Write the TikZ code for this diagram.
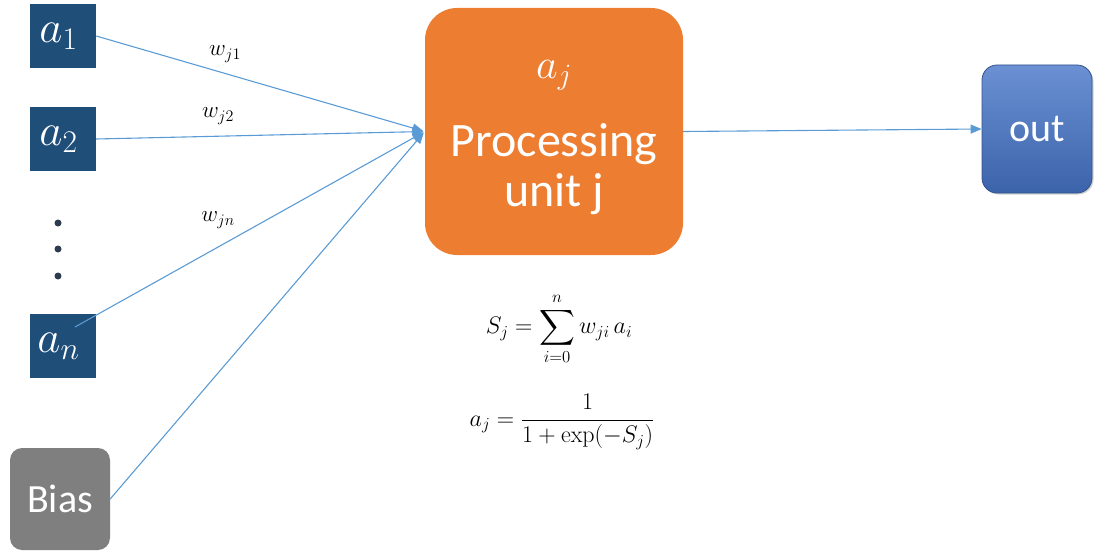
\RequirePackage{fix-cm}
\documentclass[tikz,border=0pt]{standalone}
\usepackage{amsmath}
\usepackage[no-math]{fontspec}
\setmainfont{Carlito}
\usetikzlibrary{arrows.meta,calc,shadows}

\definecolor{navy}{HTML}{1F4E79}
\definecolor{procorange}{HTML}{ED7D31}
\definecolor{biasgray}{HTML}{7F7F7F}
\definecolor{linkblue}{HTML}{5B9BD5}
\definecolor{outblue}{HTML}{4675C8}
\definecolor{dotcol}{HTML}{2E3B4E}

\newcommand{\unitlabel}[1]{$#1$\hspace*{9pt}}

\begin{document}
\begin{tikzpicture}[x=1pt,y=-1pt,
  inbox/.style={fill=navy, text=white, minimum width=66pt, minimum height=64pt,
    inner sep=0pt, font=\fontsize{45}{45}\selectfont},
  biasbox/.style={fill=biasgray, text=white, rounded corners=12pt,
    minimum width=100pt, minimum height=102pt, inner sep=0pt,
    font=\fontsize{40}{40}\selectfont},
  procbox/.style={fill=procorange, rounded corners=32pt,
    minimum width=258pt, minimum height=247pt, inner sep=0pt},
  proctext/.style={text=white, align=center, inner sep=0pt},
  outbox/.style={top color=outblue!80!white, middle color=outblue,
    bottom color=outblue!85!black, draw=outblue!70!black, line width=0.8pt,
    rounded corners=15pt, minimum width=110pt, minimum height=128pt,
    inner sep=0pt, text=white, font=\fontsize{40}{40}\selectfont,
    drop shadow={opacity=0.3, fill=black!60, shadow xshift=1.5pt, shadow yshift=-1.5pt}},
  dotnode/.style={circle, fill=dotcol, minimum size=7pt, inner sep=0pt},
  conn/.style={draw=linkblue, line width=1.1pt,
    -{Triangle[length=11pt,width=9pt]}},
  wlab/.style={inner sep=0pt, font=\fontsize{23}{23}\selectfont},
  formula/.style={inner sep=0pt, font=\fontsize{24}{24}\selectfont}
]
\useasboundingbox (0,0) rectangle (1096,551);

% input units
\node[inbox] (a1) at (63,36) {\unitlabel{a_1}};
\node[inbox] (a2) at (63,139) {\unitlabel{a_2}};
\node[dotnode] (d1) at (58,223) {};
\node[dotnode] (d2) at (58,249) {};
\node[dotnode] (d3) at (58,276) {};
\node[inbox] (an) at (63,346) {\unitlabel{a_n}};
\node[biasbox] (bias) at (60,499) {Bias};

% processing unit
\node[procbox] (proc) at (554,131.5) {};
\node[proctext, anchor=base, font=\fontsize{42}{42}\selectfont] (aj) at (554,78) {$a_j$};
\node[proctext, anchor=base, font=\fontsize{48}{48}\selectfont] (ptxt) at (554,157) {Processing};
\node[proctext, anchor=base, font=\fontsize{48}{48}\selectfont] (utxt) at (554,206) {unit j};

% output unit
\node[outbox] (out) at (1037,129) {out};

% weighted connections
\draw[conn, shorten >=1.5pt] (a1.east) -- (proc.west);
\draw[conn, shorten >=1.5pt] (a2.east) -- (proc.west);
\draw[conn, shorten >=1.5pt] ([shift={(12,-19)}]an.center) -- (proc.west);
\draw[conn, shorten >=1.5pt] (bias.east) -- (proc.west);
\draw[conn] (proc.east) -- (out.west);

\node[wlab] (w1) at (225,54) {$w_{j1}$};
\node[wlab] (w2) at (218,116) {$w_{j2}$};
\node[wlab] (wn) at (218,220) {$w_{jn}$};

% activation formulas
\node[formula] (f1) at (559,329) {$\displaystyle S_j = \sum_{i=0}^{n} w_{ji}\, a_i$};
\node[formula] (f2) at (562,422) {$\displaystyle a_j = \frac{1}{1+\exp(-S_j)}$};
\end{tikzpicture}
\end{document}
